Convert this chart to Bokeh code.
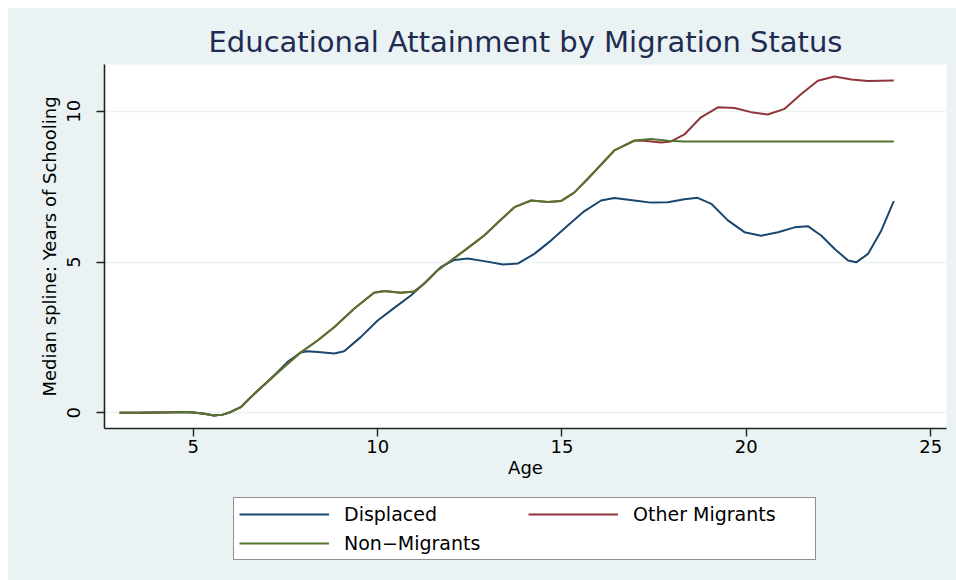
from bokeh.plotting import figure
from bokeh.models import Range1d, FixedTicker, Legend, LegendItem, Title
from bokeh.layouts import column
from bokeh.embed import file_html
from bokeh.resources import INLINE

# ---- data (median spline of years of schooling by age) ----
age_displaced = [3, 3.5, 4, 4.5, 4.75, 5, 5.3, 5.56, 5.8, 6.0, 6.3, 6.56, 7.1, 7.55, 7.91,
                 8.1, 8.46, 8.82, 9.09, 9.54, 10.0, 10.45, 10.9, 11.35, 11.71, 12.08, 12.44,
                 12.89, 13.4, 13.8, 14.25, 14.7, 15.15, 15.6, 16.06, 16.42, 16.96, 17.42,
                 17.87, 18.32, 18.68, 19.05, 19.5, 19.95, 20.4, 20.86, 21.31, 21.67, 22.03,
                 22.39, 22.76, 22.98, 23.3, 23.66, 24.0]
displaced = [0, 0, 0.01, 0.02, 0.03, 0.01, -0.03, -0.09, -0.06, 0.02, 0.2, 0.52, 1.13, 1.68, 2.0,
             2.04, 2.01, 1.97, 2.04, 2.51, 3.06, 3.48, 3.89, 4.39, 4.83, 5.07, 5.12,
             5.03, 4.92, 4.95, 5.27, 5.71, 6.2, 6.68, 7.04, 7.12, 7.04, 6.97,
             6.98, 7.08, 7.13, 6.93, 6.38, 5.99, 5.87, 5.99, 6.15, 6.19, 5.88,
             5.44, 5.05, 4.99, 5.27, 6.04, 7.02]

age_other = [3, 3.5, 4, 4.5, 4.75, 5, 5.3, 5.56, 5.8, 6.0, 6.3, 6.56, 7.1, 7.55, 7.91, 8.37,
             8.82, 9.36, 9.9, 10.18, 10.63, 10.99, 11.26, 11.62, 11.99, 12.44, 12.89, 13.34,
             13.71, 14.16, 14.61, 14.97, 15.33, 15.7, 16.0, 16.42, 16.96, 17.14, 17.42, 17.69,
             17.96, 18.32, 18.77, 19.23, 19.68, 20.13, 20.58, 21.04, 21.49, 21.94, 22.39,
             22.85, 23.3, 24.0]
other_migrants = [0, 0, 0.01, 0.02, 0.03, 0.01, -0.03, -0.09, -0.06, 0.02, 0.2, 0.52, 1.13, 1.62, 2.0, 2.4,
                  2.84, 3.45, 3.98, 4.04, 3.98, 4.02, 4.28, 4.72, 5.05, 5.46, 5.88, 6.4,
                  6.82, 7.04, 6.99, 7.02, 7.3, 7.76, 8.15, 8.7, 9.02, 9.03, 9.0, 8.96,
                  9.0, 9.23, 9.8, 10.13, 10.11, 9.97, 9.89, 10.08, 10.57, 11.01, 11.15,
                  11.05, 11.0, 11.02]

age_non = [3, 3.5, 4, 4.5, 4.75, 5, 5.3, 5.56, 5.8, 6.0, 6.3, 6.56, 7.1, 7.55, 7.91, 8.37,
           8.82, 9.36, 9.9, 10.18, 10.63, 10.99, 11.26, 11.62, 11.99, 12.44, 12.89, 13.34,
           13.71, 14.16, 14.61, 14.97, 15.33, 15.7, 16.0, 16.42, 16.96, 17.42, 17.87, 18.32,
           19, 20, 21, 22, 23, 24]
non_migrants = [0, 0, 0.01, 0.02, 0.03, 0.01, -0.03, -0.09, -0.06, 0.02, 0.2, 0.52, 1.13, 1.62, 2.0, 2.4,
                2.84, 3.45, 3.98, 4.04, 3.98, 4.02, 4.28, 4.72, 5.05, 5.46, 5.88, 6.4,
                6.82, 7.04, 6.99, 7.02, 7.3, 7.76, 8.15, 8.7, 9.03, 9.08, 9.02, 9.0,
                9.0, 9.0, 9.0, 9.0, 9.0, 9.0]

x_ticks = [5, 10, 15, 20, 25]
y_ticks = [0, 5, 10]
series_names = ["Displaced", "Other Migrants", "Non\u2212Migrants"]
series_colors = ["#1A476F", "#90353B", "#55752F"]

BG = "#EAF2F3"
FONT = "DejaVu Sans"

p = figure(frame_width=842, frame_height=364, output_backend="svg", toolbar_location=None,
           x_range=Range1d(2.59, 25.43), y_range=Range1d(-0.52, 11.55),
           min_border_left=96, min_border_right=10, min_border_top=56, min_border_bottom=62,
           background_fill_color="white", border_fill_color=BG, outline_line_color=None)

title = Title(text="Educational Attainment by Migration Status", align="center",
              text_font=FONT, text_font_size="29px", text_font_style="normal",
              text_color="#1E2C52", standoff=12)
p.add_layout(title, "above")

# grid
p.xgrid.visible = False
p.ygrid.ticker = FixedTicker(ticks=y_ticks)
p.ygrid.grid_line_color = BG
p.ygrid.grid_line_width = 1.5

for ax in (p.xaxis[0], p.yaxis[0]):
    ax.axis_line_color = "#222222"
    ax.axis_line_width = 1.6
    ax.major_tick_line_color = "#222222"
    ax.major_tick_line_width = 1.4
    ax.major_tick_in = 0
    ax.major_tick_out = 8
    ax.minor_tick_line_color = None
    ax.major_label_text_font = FONT
    ax.major_label_text_font_size = "18px"
    ax.major_label_text_color = "black"
    ax.axis_label_text_font = FONT
    ax.axis_label_text_font_size = "18px"
    ax.axis_label_text_font_style = "normal"
    ax.axis_label_text_color = "black"

p.xaxis.ticker = FixedTicker(ticks=x_ticks)
p.yaxis.ticker = FixedTicker(ticks=y_ticks)
p.xaxis.axis_label = "Age"
p.yaxis.axis_label = "Median spline: Years of Schooling"
p.xaxis.major_label_standoff = 3
p.xaxis.axis_label_standoff = 1
p.yaxis.major_label_orientation = "vertical"
p.yaxis.major_label_standoff = 16
p.yaxis.axis_label_standoff = 5

p.line(age_displaced, displaced, line_color=series_colors[0], line_width=2)
p.line(age_other, other_migrants, line_color=series_colors[1], line_width=2)
p.line(age_non, non_migrants, line_color=series_colors[2], line_width=2)

# ---- legend strip below the chart: same borders as the chart, so the frames line up ----
p2 = figure(frame_width=842, frame_height=90, output_backend="svg", toolbar_location=None,
            title=None, x_range=Range1d(0, 1), y_range=Range1d(0, 1),
            min_border_left=96, min_border_right=10, min_border_top=0, min_border_bottom=0,
            background_fill_color=BG, border_fill_color=BG, outline_line_color=None)
p2.axis.visible = False
p2.grid.visible = False
# legend keys only: their points lie outside the strip's ranges
k1 = p2.line([-2, -1], [-2, -1], line_color=series_colors[0], line_width=2)
k2 = p2.line([-2, -1], [-2, -1], line_color=series_colors[1], line_width=2)
k3 = p2.line([-2, -1], [-2, -1], line_color=series_colors[2], line_width=2)

# legend fills column-first: col 1 = Displaced, Non-Migrants; col 2 = Other Migrants
legend = Legend(items=[LegendItem(label=series_names[0], renderers=[k1]),
                       LegendItem(label=series_names[2], renderers=[k3]),
                       LegendItem(label=series_names[1], renderers=[k2])],
                ncols=2, location=(129, 20), margin=0,
                label_text_font=FONT, label_text_font_size="19px", label_text_color="black",
                glyph_width=90, glyph_height=16, label_height=20, label_width=177,
                label_standoff=15, spacing=7, padding=5,
                border_line_color="#222222", border_line_width=1,
                background_fill_color="white", background_fill_alpha=1.0)
p2.add_layout(legend, "center")

layout = column(p, p2, spacing=0, margin=(8, 0, 0, 8),
                styles={"background-color": BG})
open("out.html", "w").write(file_html(layout, INLINE))
